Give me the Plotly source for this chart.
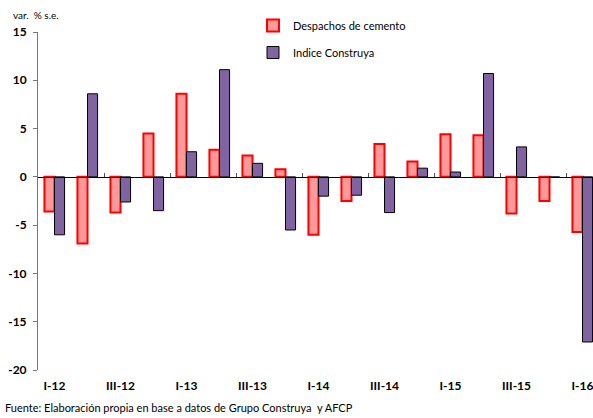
import plotly.graph_objects as go

quarters = ["I-12", "II-12", "III-12", "IV-12", "I-13", "II-13", "III-13", "IV-13",
            "I-14", "II-14", "III-14", "IV-14", "I-15", "II-15", "III-15", "IV-15", "I-16"]
tick_labels = quarters[::2]
y_ticks = [-20, -15, -10, -5, 0, 5, 10, 15]
y_tick_text = ["-20", "-15", "-10", "-5", "0", "5", "10", "15"]

despachos = [-3.6, -6.9, -3.7, 4.5, 8.6, 2.8, 2.2, 0.8,
             -6.0, -2.5, 3.4, 1.6, 4.4, 4.3, -3.8, -2.5, -5.7]
construya = [-6.0, 8.6, -2.6, -3.5, 2.6, 11.1, 1.4, -5.5,
             -2.0, -1.9, -3.7, 0.9, 0.5, 10.7, 3.1, -0.05, -17.1]

FONT = "Lato"
L, R, T, B = 38, 0, 32, 48
W, H = 593, 418
plot_w, plot_h = W - L - R, H - T - B
x_end = -0.5 + plot_w / 33  # chart is cut off at the right edge


def px_to_paper(x, y):
    return (x - L) / plot_w, (H - B - y) / plot_h


fig = go.Figure()
fig.add_trace(go.Bar(x=quarters, y=despachos, name="Despachos de cemento",
                     marker=dict(color="#FF9999", line=dict(color="#FF0000", width=2)),
                     legendgroup="a"))
fig.add_trace(go.Bar(x=quarters, y=construya, name="Indice Construya",
                     marker=dict(color="#8064A2", line=dict(color="#000000", width=1)),
                     legendgroup="b"))
fig.add_trace(go.Scatter(x=[0], y=[0], xaxis="x2", mode="markers",
                         marker=dict(opacity=0), showlegend=False, hoverinfo="skip"))

leg_x, leg_y = px_to_paper(253, 11)
var_x, var_y = px_to_paper(11, 15)
src_x, src_y = px_to_paper(3, 408)

fig.update_layout(
    width=W, height=H,
    margin=dict(l=L, r=R, t=T, b=B, autoexpand=False),
    paper_bgcolor="white", plot_bgcolor="white",
    barmode="group", bargap=0.39, bargroupgap=0,
    font=dict(family=FONT, size=11, color="#000000"),
    showlegend=True,
    legend=dict(x=leg_x, y=leg_y, xanchor="left", yanchor="top",
                font=dict(size=11), traceorder="grouped", tracegroupgap=8,
                bgcolor="rgba(0,0,0,0)", itemwidth=30),
    xaxis=dict(type="category", range=[-0.5, x_end], tickvals=tick_labels,
               ticktext=tick_labels, showline=False, showgrid=False, zeroline=False,
               ticks="", ticklen=0, ticklabelstandoff=7,
               tickfont=dict(size=12, weight="bold", family=FONT)),
    xaxis2=dict(overlaying="x", anchor="free", position=20 / 35, range=[-0.5, x_end],
                tick0=1.5, dtick=2, ticks="inside", ticklen=4, tickcolor="#555555",
                showline=True, linecolor="#000000", linewidth=1, showticklabels=False,
                showgrid=False, zeroline=False),
    yaxis=dict(range=[-20, 15], tickvals=y_ticks, ticktext=y_tick_text,
               showgrid=False, zeroline=False,
               showline=True, linecolor="#777777", linewidth=1,
               ticks="outside", ticklen=4, tickcolor="#777777", ticklabelstandoff=4,
               tickfont=dict(size=12, weight="bold", family=FONT)),
    annotations=[
        dict(text="var.  % s.e.", x=var_x, y=var_y, xref="paper", yref="paper",
             showarrow=False, xanchor="left", yanchor="middle", font=dict(size=10)),
        dict(text="Fuente: Elaboración propia en base a datos de Grupo Construya  y AFCP",
             x=src_x, y=src_y, xref="paper", yref="paper", showarrow=False,
             xanchor="left", yanchor="middle", font=dict(size=11)),
    ],
)

# the page's default body margin would shift the figure by 8px
fig.write_html("out.html", config={"displayModeBar": False},
               post_script="document.body.style.margin = '0';")
